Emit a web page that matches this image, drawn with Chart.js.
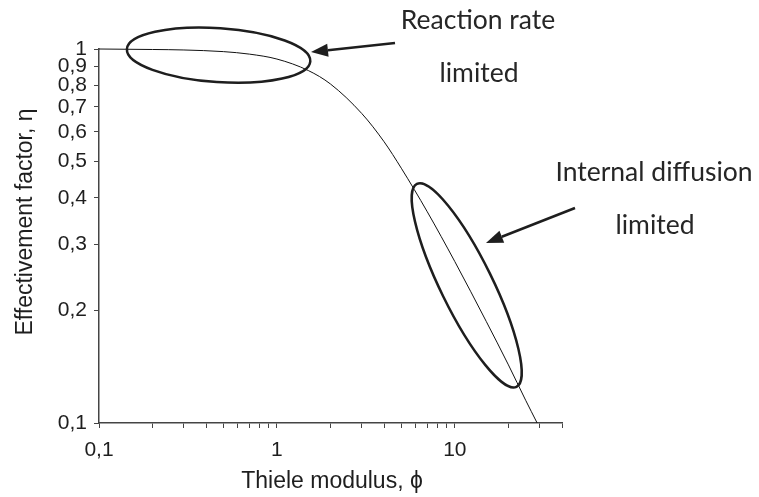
<!DOCTYPE html>
<html>
<head>
<meta charset="utf-8">
<script src="https://cdn.jsdelivr.net/npm/chart.js@4.4.1/dist/chart.umd.min.js"></script>
<style>
  html, body { margin: 0; padding: 0; background: #fff; }
  #wrap { width: 759px; height: 497px; }
</style>
</head>
<body>
<div id="wrap"><canvas id="effChart" width="759" height="497"></canvas></div>
<script>
// effectiveness factor against Thiele modulus (log-log)
var phi = [0.1, 0.2, 0.3, 0.5, 0.7, 1, 1.5, 2, 3, 4, 5, 7, 10, 15, 20, 25, 29];
var eta = [1.0, 0.997, 0.994, 0.984, 0.969, 0.94, 0.876, 0.806, 0.672, 0.565, 0.48, 0.367, 0.27, 0.187, 0.143, 0.115, 0.1];

var xTickValues = [0.1, 0.2, 0.3, 0.4, 0.5, 0.6, 0.7, 0.8, 0.9, 1, 2, 3, 4, 5, 6, 7, 8, 9, 10, 20, 30, 40];
var xLabelValues = [0.1, 1, 10];
var xLabelText = ['0,1', '1', '10'];
var yTickValues = [0.1, 0.2, 0.3, 0.4, 0.5, 0.6, 0.7, 0.8, 0.9, 1];
var yTickText = ['0,1', '0,2', '0,3', '0,4', '0,5', '0,6', '0,7', '0,8', '0,9', '1'];

var axisFont = '"Liberation Sans", Arial, sans-serif';
var noteFont = 'Lato, "Open Sans", sans-serif';
var ink = '#1e1e1e';

function findLabel(values, texts, v) {
  for (var i = 0; i < values.length; i++) {
    if (Math.abs(values[i] - v) < 1e-9 * Math.max(1, v)) return texts[i];
  }
  return '';
}

// ellipses given by the two ends of their long axis (data units) and half width in px
var rings = [
  { from: [0.1435, 1.0], to: [1.54, 0.927], half: 27 },
  { from: [6.12, 0.436], to: [22.2, 0.125], half: 26 }
];
var arrows = [
  { tail: [395, 43], tip: [311, 52] },
  { tail: [575, 208], tip: [486, 243] }
];
var notes = [
  { text: 'Reaction rate', x: 478, y: 20 },
  { text: 'limited', x: 479, y: 73 },
  { text: 'Internal diffusion', x: 654, y: 172 },
  { text: 'limited', x: 655, y: 225 }
];

var overlay = {
  id: 'overlay',
  afterDraw: function (chart) {
    var ctx = chart.ctx;
    var xs = chart.scales.x, ys = chart.scales.y;
    ctx.save();
    ctx.strokeStyle = ink;
    ctx.fillStyle = ink;
    ctx.lineWidth = 2.5;

    rings.forEach(function (r) {
      var x1 = xs.getPixelForValue(r.from[0]), y1 = ys.getPixelForValue(r.from[1]);
      var x2 = xs.getPixelForValue(r.to[0]), y2 = ys.getPixelForValue(r.to[1]);
      var cx = (x1 + x2) / 2, cy = (y1 + y2) / 2;
      var a = Math.hypot(x2 - x1, y2 - y1) / 2;
      var ang = Math.atan2(y2 - y1, x2 - x1);
      ctx.beginPath();
      ctx.ellipse(cx, cy, a, r.half, ang, 0, Math.PI * 2);
      ctx.stroke();
    });

    arrows.forEach(function (ar) {
      var dx = ar.tip[0] - ar.tail[0], dy = ar.tip[1] - ar.tail[1];
      var len = Math.hypot(dx, dy), ux = dx / len, uy = dy / len;
      var head = 17, w = 6.5;
      var bx = ar.tip[0] - ux * head, by = ar.tip[1] - uy * head;
      ctx.beginPath();
      ctx.moveTo(ar.tail[0], ar.tail[1]);
      ctx.lineTo(bx, by);
      ctx.stroke();
      ctx.beginPath();
      ctx.moveTo(ar.tip[0], ar.tip[1]);
      ctx.lineTo(bx - uy * w, by + ux * w);
      ctx.lineTo(bx + uy * w, by - ux * w);
      ctx.closePath();
      ctx.fill();
    });

    ctx.font = '26.5px ' + noteFont;
    ctx.fillStyle = '#262626';
    ctx.textAlign = 'center';
    ctx.textBaseline = 'middle';
    notes.forEach(function (n) { ctx.fillText(n.text, n.x, n.y); });

    // axis titles
    ctx.fillStyle = ink;
    ctx.font = '23px ' + axisFont;
    ctx.fillText('Thiele modulus, ϕ', 332, 482);
    ctx.translate(26, 222);
    ctx.rotate(-Math.PI / 2);
    ctx.fillText('Effectivement factor, η', 0, 0);
    ctx.restore();
  }
};

new Chart(document.getElementById('effChart'), {
  type: 'line',
  data: {
    datasets: [{
      data: phi.map(function (p, i) { return { x: p, y: eta[i] }; }),
      borderColor: '#111',
      borderWidth: 1,
      pointRadius: 0,
      cubicInterpolationMode: 'monotone',
      clip: false
    }]
  },
  options: {
    responsive: false,
    animation: false,
    layout: { padding: { top: 49, right: 197, left: 0, bottom: 0 } },
    plugins: { legend: { display: false }, tooltip: { enabled: false } },
    scales: {
      x: {
        type: 'logarithmic',
        min: 0.1,
        max: 40,
        afterBuildTicks: function (scale) {
          scale.ticks = xTickValues.map(function (v) { return { value: v }; });
        },
        afterFit: function (scale) { scale.height = 74; },
        border: { color: '#444', width: 1.5 },
        grid: { drawOnChartArea: false, tickLength: 5, tickColor: '#444', tickWidth: 1 },
        ticks: {
          autoSkip: false,
          maxRotation: 0,
          padding: 10,
          color: ink,
          font: { family: axisFont, size: 21 },
          callback: function (v) { return findLabel(xLabelValues, xLabelText, v); }
        }
      },
      y: {
        type: 'logarithmic',
        min: 0.1,
        max: 1,
        afterBuildTicks: function (scale) {
          scale.ticks = yTickValues.map(function (v) { return { value: v }; });
        },
        afterFit: function (scale) { scale.width = 99; },
        border: { color: '#444', width: 1.5 },
        grid: { drawOnChartArea: false, tickLength: 5, tickColor: '#444', tickWidth: 1 },
        ticks: {
          autoSkip: false,
          padding: 7,
          color: ink,
          font: { family: axisFont, size: 21 },
          callback: function (v) { return findLabel(yTickValues, yTickText, v); }
        }
      }
    }
  },
  plugins: [overlay]
});
</script>
</body>
</html>
